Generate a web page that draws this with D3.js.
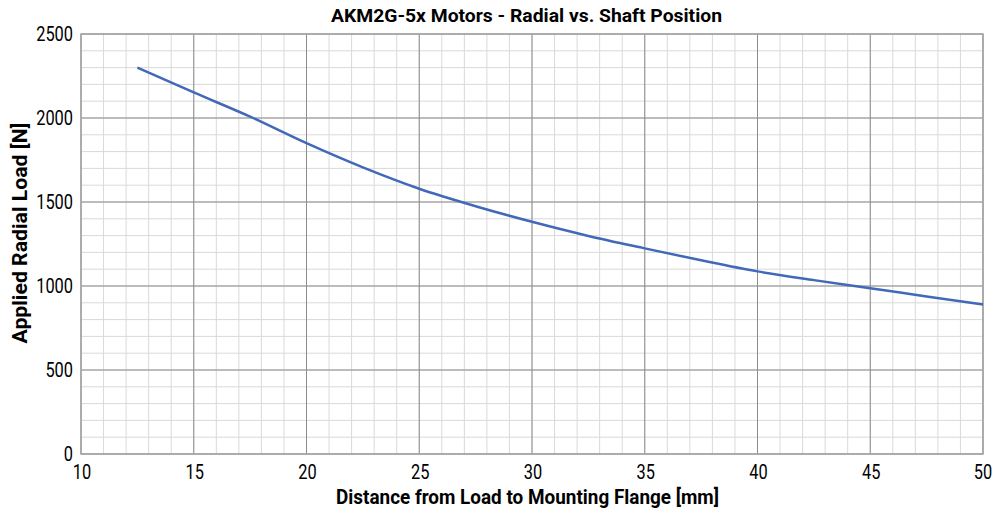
<!DOCTYPE html>
<html><head><meta charset="utf-8">
<script src="https://cdn.jsdelivr.net/npm/d3@7"></script>
<style>
body{margin:0;background:#fff;}
svg{display:block;font-family:Roboto,"DejaVu Sans Condensed",sans-serif;}
</style></head><body>
<svg id="c" width="995" height="514"></svg>
<script>
const title = "AKM2G-5x Motors - Radial vs. Shaft Position";
const xLabel = "Distance from Load to Mounting Flange [mm]";
const yLabel = "Applied Radial Load  [N]";
const xTicks = [10,15,20,25,30,35,40,45,50];
const yTicks = [0,500,1000,1500,2000,2500];
const distance = [12.5,15,17.5,20,22.5,25,27.5,30,32.5,35,37.5,40,42.5,45,47.5,50];
const load = [2300,2152,2008,1850,1706,1579,1475,1382,1298,1224,1153,1087,1035,987,938,890];

const svg = d3.select("#c");
const m = {l:81, r:983, t:34, b:454};
const x = d3.scaleLinear().domain([10,50]).range([m.l,m.r]);
const y = d3.scaleLinear().domain([0,2500]).range([m.b,m.t]);

const g = svg.append("g");
// minor grid
g.selectAll(".mx").data(d3.range(10,51,1)).join("line")
 .attr("x1",d=>x(d)).attr("x2",d=>x(d)).attr("y1",m.t).attr("y2",m.b)
 .attr("stroke","#d9d9d9").attr("stroke-width",1);
g.selectAll(".my").data(d3.range(0,2501,100)).join("line")
 .attr("y1",d=>y(d)).attr("y2",d=>y(d)).attr("x1",m.l).attr("x2",m.r)
 .attr("stroke","#d9d9d9").attr("stroke-width",1);
// major grid
g.selectAll(".Mx").data(xTicks).join("line")
 .attr("x1",d=>x(d)).attr("x2",d=>x(d)).attr("y1",m.t).attr("y2",m.b)
 .attr("stroke","#8c8c8c").attr("stroke-width",1);
g.selectAll(".My").data(yTicks).join("line")
 .attr("y1",d=>y(d)).attr("y2",d=>y(d)).attr("x1",m.l).attr("x2",m.r)
 .attr("stroke","#8c8c8c").attr("stroke-width",1);
// border
g.append("rect").attr("x",m.l).attr("y",m.t).attr("width",m.r-m.l).attr("height",m.b-m.t)
 .attr("fill","none").attr("stroke","#a6a6a6").attr("stroke-width",1.5);

// curve
const line = d3.line().x((d,i)=>x(distance[i])).y(d=>y(d)).curve(d3.curveMonotoneX);
svg.append("path").datum(load).attr("d",line).attr("fill","none")
 .attr("stroke","#4169b8").attr("stroke-width",2.5);

// tick labels
svg.selectAll(".xt").data(xTicks).join("text")
 .attr("x",d=>Math.min(x(d)+1, 983)).attr("y",479).attr("text-anchor","middle")
 .attr("font-size",20).attr("fill","#000")
 .attr("textLength",d=>String(d).length*9.2).attr("lengthAdjust","spacingAndGlyphs").text(d=>d);
svg.selectAll(".yt").data(yTicks).join("text")
 .attr("x",73).attr("y",d=>y(d)+7.3).attr("text-anchor","end")
 .attr("font-size",20).attr("fill","#000")
 .attr("textLength",d=>String(d).length*9.2).attr("lengthAdjust","spacingAndGlyphs").text(d=>d);

svg.append("text").attr("x",526.5).attr("y",22).attr("text-anchor","middle")
 .attr("font-size",18).attr("font-weight","bold")
 .attr("textLength",391).attr("lengthAdjust","spacingAndGlyphs").text(title);
svg.append("text").attr("x",527.5).attr("y",504).attr("text-anchor","middle")
 .attr("font-size",20).attr("font-weight","bold")
 .attr("textLength",383).attr("lengthAdjust","spacingAndGlyphs").text(xLabel);
svg.append("text").attr("transform","translate(27,233) rotate(-90)").attr("text-anchor","middle")
 .attr("font-size",20).attr("font-weight","bold")
 .attr("textLength",221).attr("lengthAdjust","spacingAndGlyphs").text(yLabel);
</script></body></html>
